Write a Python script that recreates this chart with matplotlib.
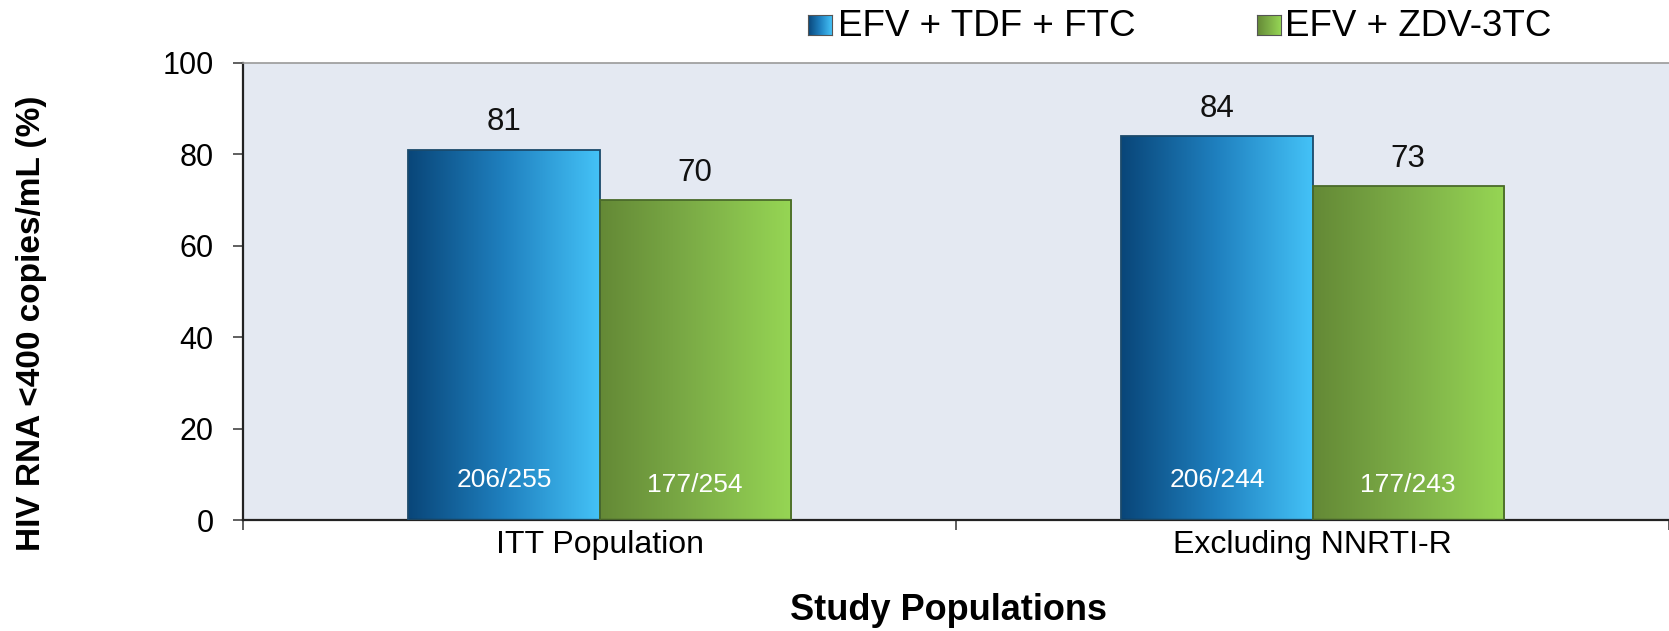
import numpy as np
import matplotlib
matplotlib.use('Agg')
import matplotlib.pyplot as plt
from matplotlib.colors import LinearSegmentedColormap

categories = ['ITT Population', 'Excluding NNRTI-R']
series_names = ['EFV + TDF + FTC', 'EFV + ZDV-3TC']
tdf_values = [81, 84]
zdv_values = [70, 73]
tdf_counts = ['206/255', '206/244']
zdv_counts = ['177/254', '177/243']
y_ticks = [0, 20, 40, 60, 80, 100]

plt.rcParams['font.family'] = ['Liberation Sans', 'DejaVu Sans']

W, H = 1669, 631
fig = plt.figure(figsize=(W / 100, H / 100), dpi=100)
fig.patch.set_facecolor('white')
ax = fig.add_axes([243 / W, 1 - 520 / H, 1 - 243 / W, (520 - 63) / H])
ax.set_facecolor('#e4e9f2')

x = np.arange(len(categories))
w = 0.268
grad = np.linspace(0, 1, 256).reshape(1, -1)
cmap_b = LinearSegmentedColormap.from_list('b', ['#094679', '#1f80bf', '#44c2f7'])
cmap_g = LinearSegmentedColormap.from_list('g', ['#648936', '#7dae47', '#96d654'])

specs = [
    (tdf_values, tdf_counts, -w / 2, cmap_b, '#1b4a6b', 7.2),
    (zdv_values, zdv_counts, w / 2, cmap_g, '#4a6a2a', 6.1),
]
for vals, counts, off, cmap, edge, ny in specs:
    bars = ax.bar(x + off, vals, w, color='none', edgecolor=edge, linewidth=1.3, zorder=3)
    for b, v, c in zip(bars, vals, counts):
        x0 = b.get_x()
        x1 = x0 + b.get_width()
        h = b.get_height()
        im = ax.imshow(grad, extent=[x0, x1, 0, h], aspect='auto', cmap=cmap,
                       zorder=2, interpolation='bicubic')
        im.set_clip_path(b)
        cx = x0 + b.get_width() / 2
        ax.annotate(str(v), (cx, h), xytext=(0, 14), textcoords='offset points',
                    ha='center', va='baseline', fontsize=22.5, color='#111111')
        ax.text(cx, ny, c, color='white', ha='center', va='baseline', fontsize=19, zorder=4)

ax.set_xlim(-0.5, len(categories) - 0.5)
ax.set_ylim(0, 100)
ax.set_yticks(y_ticks)
ax.set_xticks(x, categories)
ax.set_xticks(np.arange(len(categories) + 1) - 0.5, minor=True)
ax.tick_params(axis='y', length=7, width=1.2, color='#444444', pad=14, labelsize=22)
ax.tick_params(axis='x', which='major', length=0, pad=7, labelsize=23)
ax.tick_params(axis='x', which='minor', length=7, width=1.2, color='#444444')

for s in ['left', 'bottom']:
    ax.spines[s].set_color('#222222')
    ax.spines[s].set_linewidth(1.6)
ax.spines['top'].set_color('#9a9a9a')
ax.spines['top'].set_linewidth(1.2)
ax.spines['right'].set_visible(False)

fig.text(32 / W, 1 - 323 / H, 'HIV RNA <400 copies/mL (%)', rotation=90,
         fontsize=24, fontweight='bold', ha='center', va='center')
fig.text(948 / W, 1 - 610 / H, 'Study Populations', fontsize=26,
         fontweight='bold', ha='center', va='center')

# legend
leg_pos = [(808, 838), (1257, 1285)]
for name, cmap, (sx, tx) in zip(series_names, [cmap_b, cmap_g], leg_pos):
    lax = fig.add_axes([sx / W, 1 - 35 / H, 24 / W, 20 / H])
    lax.imshow(grad, aspect='auto', cmap=cmap, interpolation='bicubic')
    lax.set_xticks([])
    lax.set_yticks([])
    for sp in lax.spines.values():
        sp.set_color('#555555')
        sp.set_linewidth(0.8)
    fig.text(tx / W, 1 - 36.5 / H, name, fontsize=26.5, ha='left', va='baseline')

fig.savefig('out.png', dpi=100)
